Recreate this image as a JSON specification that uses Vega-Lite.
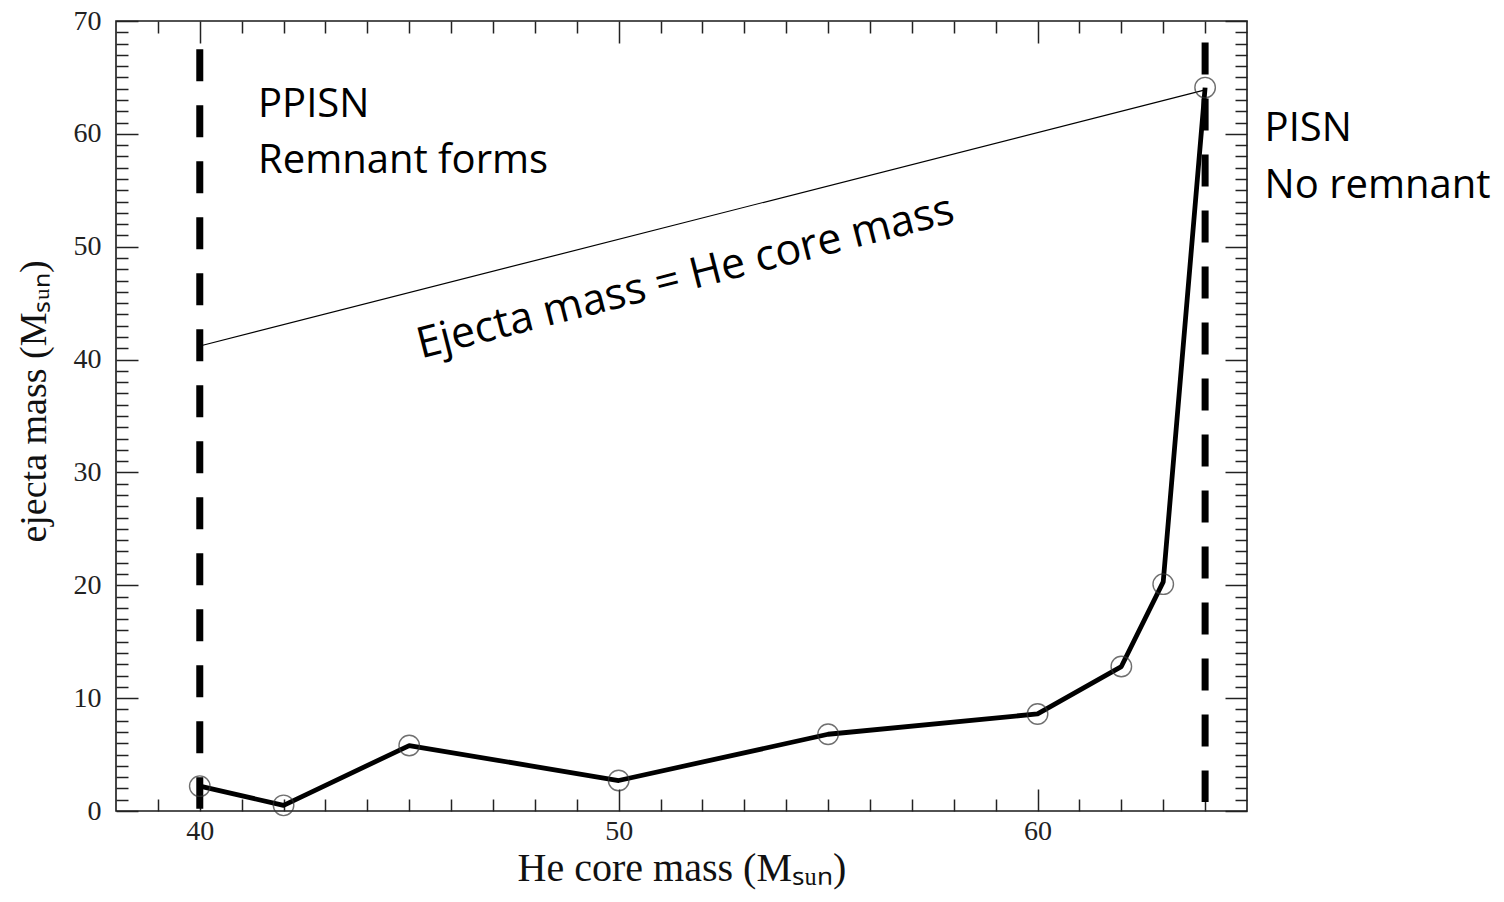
{
  "$schema": "https://vega.github.io/schema/vega-lite/v6.json",
  "width": 1131,
  "height": 790,
  "autosize": {"type": "none"},
  "padding": {"left": 116, "top": 21, "right": 257, "bottom": 91},
  "background": "white",
  "config": {
    "view": {"stroke": "#1a1a1a", "strokeWidth": 1.6},
    "axis": {"grid": false, "domain": false, "tickColor": "#222", "tickWidth": 1.5}
  },
  "resolve": {"axis": {"x": "independent", "y": "independent"}},
  "layer": [
    {
      "data": {"values": [
        {"mass": 40, "top": 67.5, "bottom": 0.2},
        {"mass": 64, "top": 68.1, "bottom": 0.8}
      ]},
      "mark": {"type": "rule", "color": "black", "strokeWidth": 7, "strokeDash": [32, 24]},
      "encoding": {
        "x": {"field": "mass", "type": "quantitative",
          "scale": {"domain": [38, 65], "nice": false, "zero": false},
          "axis": {"orient": "bottom", "values": [40, 50, 60], "ticks": false, "tickSize": 0,
            "labelFont": "Liberation Serif", "labelFontSize": 28, "labelColor": "#222", "labelPadding": 6,
            "title": "He core mass (Mₛᵤₙ)", "titleFont": "Liberation Serif", "titleFontSize": 40,
            "titleFontWeight": "normal", "titleColor": "#111", "titleX": 565.5, "titleY": 69,
            "titleBaseline": "alphabetic", "titleAlign": "center", "titleAnchor": null}},
        "y": {"field": "top", "type": "quantitative",
          "scale": {"domain": [0, 70], "nice": false, "zero": false},
          "axis": {"orient": "left", "values": [0, 10, 20, 30, 40, 50, 60, 70], "ticks": false, "tickSize": 0,
            "labelFont": "Liberation Serif", "labelFontSize": 28, "labelColor": "#222", "labelPadding": 15,
            "title": "ejecta mass (Mₛᵤₙ)", "titleFont": "Liberation Serif", "titleFontSize": 38,
            "titleFontWeight": "normal", "titleColor": "#111", "titleAngle": -90, "titleX": -71, "titleY": 380,
            "titleBaseline": "alphabetic", "titleAlign": "center", "titleAnchor": null}},
        "y2": {"field": "bottom"}
      }
    },
    {
      "data": {"values": [
        {"mass": 40, "ejecta": 41.2},
        {"mass": 64, "ejecta": 63.9}
      ]},
      "mark": {"type": "line", "color": "black", "strokeWidth": 1.2},
      "encoding": {
        "x": {"field": "mass", "type": "quantitative",
          "scale": {"domain": [38, 65], "nice": false, "zero": false},
          "axis": {"orient": "bottom", "values": [40, 50, 60], "labels": false, "tickSize": -22, "title": null}},
        "y": {"field": "ejecta", "type": "quantitative",
          "scale": {"domain": [0, 70], "nice": false, "zero": false},
          "axis": {"orient": "left", "values": [0, 10, 20, 30, 40, 50, 60, 70], "labels": false, "tickSize": -22, "title": null}}
      }
    },
    {
      "data": {"values": [
        {"mass": 40, "ejecta": 2.2},
        {"mass": 42, "ejecta": 0.5},
        {"mass": 45, "ejecta": 5.8},
        {"mass": 50, "ejecta": 2.7},
        {"mass": 55, "ejecta": 6.8},
        {"mass": 60, "ejecta": 8.6},
        {"mass": 62, "ejecta": 12.8},
        {"mass": 63, "ejecta": 20.3},
        {"mass": 64, "ejecta": 64.1}
      ]},
      "mark": {"type": "line", "color": "black", "strokeWidth": 4.8, "strokeJoin": "round"},
      "encoding": {
        "x": {"field": "mass", "type": "quantitative",
          "scale": {"domain": [38, 65], "nice": false, "zero": false},
          "axis": {"orient": "bottom", "values": [39, 41, 42, 43, 44, 45, 46, 47, 48, 49, 51, 52, 53, 54, 55, 56, 57, 58, 59, 61, 62, 63, 64], "labels": false, "tickSize": -12, "title": null}},
        "y": {"field": "ejecta", "type": "quantitative",
          "scale": {"domain": [0, 70], "nice": false, "zero": false},
          "axis": {"orient": "left", "values": [1, 2, 3, 4, 5, 6, 7, 8, 9, 11, 12, 13, 14, 15, 16, 17, 18, 19, 21, 22, 23, 24, 25, 26, 27, 28, 29, 31, 32, 33, 34, 35, 36, 37, 38, 39, 41, 42, 43, 44, 45, 46, 47, 48, 49, 51, 52, 53, 54, 55, 56, 57, 58, 59, 61, 62, 63, 64, 65, 66, 67, 68, 69], "labels": false, "tickSize": -12, "title": null}}
      }
    },
    {
      "data": {"values": [
        {"mass": 40, "ejecta": 2.2},
        {"mass": 42, "ejecta": 0.5},
        {"mass": 45, "ejecta": 5.8},
        {"mass": 50, "ejecta": 2.7},
        {"mass": 55, "ejecta": 6.8},
        {"mass": 60, "ejecta": 8.6},
        {"mass": 62, "ejecta": 12.8},
        {"mass": 63, "ejecta": 20.1},
        {"mass": 64, "ejecta": 64.1}
      ]},
      "mark": {"type": "point", "shape": "circle", "filled": false, "size": 420, "stroke": "#333", "strokeWidth": 1.4},
      "encoding": {
        "x": {"field": "mass", "type": "quantitative",
          "scale": {"domain": [38, 65], "nice": false, "zero": false},
          "axis": {"orient": "top", "values": [40, 50, 60], "labels": false, "tickSize": -22, "title": null}},
        "y": {"field": "ejecta", "type": "quantitative",
          "scale": {"domain": [0, 70], "nice": false, "zero": false},
          "axis": {"orient": "right", "values": [0, 10, 20, 30, 40, 50, 60, 70], "labels": false, "tickSize": -22, "title": null}}
      }
    },
    {
      "data": {"values": [
        {"mass": 41.39, "ejecta": 61.5, "label": "PPISN"},
        {"mass": 41.39, "ejecta": 56.5, "label": "Remnant forms"}
      ]},
      "mark": {"type": "text", "align": "left", "baseline": "alphabetic", "font": "Open Sans", "fontSize": 40, "color": "black"},
      "encoding": {
        "x": {"field": "mass", "type": "quantitative",
          "scale": {"domain": [38, 65], "nice": false, "zero": false},
          "axis": {"orient": "top", "values": [39, 41, 42, 43, 44, 45, 46, 47, 48, 49, 51, 52, 53, 54, 55, 56, 57, 58, 59, 61, 62, 63, 64], "labels": false, "tickSize": -12, "title": null}},
        "y": {"field": "ejecta", "type": "quantitative",
          "scale": {"domain": [0, 70], "nice": false, "zero": false},
          "axis": {"orient": "right", "values": [1, 2, 3, 4, 5, 6, 7, 8, 9, 11, 12, 13, 14, 15, 16, 17, 18, 19, 21, 22, 23, 24, 25, 26, 27, 28, 29, 31, 32, 33, 34, 35, 36, 37, 38, 39, 41, 42, 43, 44, 45, 46, 47, 48, 49, 51, 52, 53, 54, 55, 56, 57, 58, 59, 61, 62, 63, 64, 65, 66, 67, 68, 69], "labels": false, "tickSize": -12, "title": null}},
        "text": {"field": "label"}
      }
    },
    {
      "data": {"values": [
        {"mass": 65.42, "ejecta": 59.4, "label": "PISN"},
        {"mass": 65.42, "ejecta": 54.3, "label": "No remnant"}
      ]},
      "mark": {"type": "text", "align": "left", "baseline": "alphabetic", "font": "Open Sans", "fontSize": 40, "color": "black"},
      "encoding": {
        "x": {"field": "mass", "type": "quantitative", "scale": {"domain": [38, 65], "nice": false, "zero": false}, "axis": null},
        "y": {"field": "ejecta", "type": "quantitative", "scale": {"domain": [0, 70], "nice": false, "zero": false}, "axis": null},
        "text": {"field": "label"}
      }
    },
    {
      "data": {"values": [
        {"mass": 45.28, "ejecta": 40.1, "label": "Ejecta mass = He core mass"}
      ]},
      "mark": {"type": "text", "align": "left", "baseline": "alphabetic", "font": "Open Sans", "fontSize": 43, "angle": -14.3, "color": "black"},
      "encoding": {
        "x": {"field": "mass", "type": "quantitative", "scale": {"domain": [38, 65], "nice": false, "zero": false}, "axis": null},
        "y": {"field": "ejecta", "type": "quantitative", "scale": {"domain": [0, 70], "nice": false, "zero": false}, "axis": null},
        "text": {"field": "label"}
      }
    }
  ]
}
